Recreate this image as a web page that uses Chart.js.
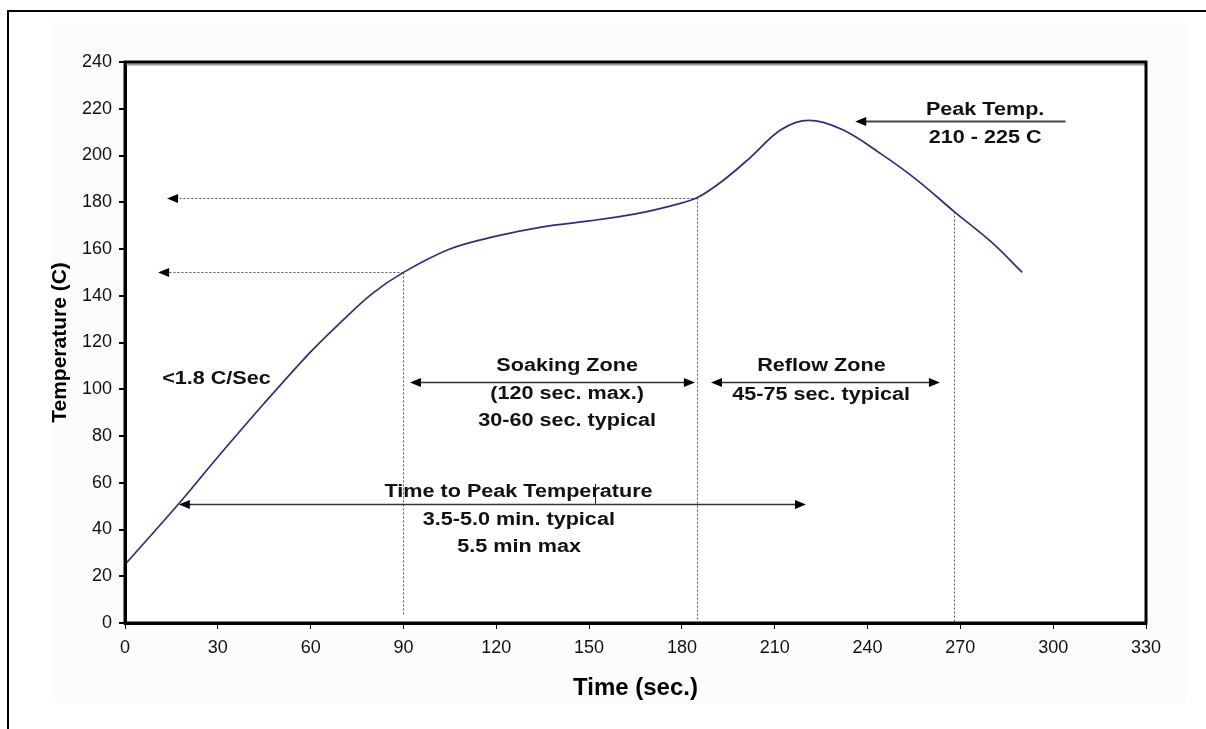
<!DOCTYPE html>
<html><head><meta charset="utf-8">
<script src="https://cdn.jsdelivr.net/npm/chart.js@4/dist/chart.umd.min.js"></script>
<style>html,body{margin:0;padding:0;background:#fff;}#wrap{width:1206px;height:729px;position:relative;}</style>
</head><body><div id="wrap"><canvas id="c" width="1206" height="729"></canvas></div>
<script>
// ---- data ----
const times = [0, 18, 30, 45, 60, 70, 80, 90, 105, 120, 135, 150, 165, 178, 185, 193, 202, 212, 221, 232, 244, 256, 268, 280, 290];
const temps = [25, 52, 71, 94, 116, 129, 141, 150, 160, 165.5, 169.5, 172, 175, 179, 182, 189, 199, 211, 215, 211, 201, 189.5, 176, 163, 150];
const xTickValues = [0, 30, 60, 90, 120, 150, 180, 210, 240, 270, 300, 330];
const yTickValues = [0, 20, 40, 60, 80, 100, 120, 140, 160, 180, 200, 220, 240];
// zone boundaries (time, temperature on the curve)
const markerTimes = [90, 185, 268];
const markerTemps = [150, 182, 176];
// horizontal dotted arrows: where they end on the left (time)
const levelArrowEnds = [10.7, 13.6];
// annotation arrows: [from time, to time, temperature, double-headed]
const arrowFrom = [92.1, 189.4, 17.4, 304];
const arrowTo = [184.2, 263.4, 220.1, 236];
const arrowTemp = [103.1, 103.1, 51, 214.7];
const arrowDouble = [true, true, true, false];
// annotation texts
const noteTexts = ['Peak Temp.', '210 - 225 C', '<1.8 C/Sec', 'Soaking Zone', '(120 sec. max.)', '30-60 sec. typical', 'Reflow Zone', '45-75 sec. typical', 'Time to Peak Temperature', '3.5-5.0 min. typical', '5.5 min max'];
const noteTimes = [278, 278, 12, 142.9, 142.9, 142.9, 225.1, 225, 127.2, 127.3, 127.4];
const noteTemps = [217.3, 205.3, 102.4, 107.6, 96, 84.4, 107.6, 95.6, 54, 42, 30.4];
const noteAlign = ['center', 'center', 'left', 'center', 'center', 'center', 'center', 'center', 'center', 'center', 'center'];

const FONT = '"Liberation Sans", Arial, sans-serif';

function arrowHead(ctx, x, y, dir) {
  ctx.beginPath();
  ctx.moveTo(x, y);
  ctx.lineTo(x - dir * 11, y - 4.5);
  ctx.lineTo(x - dir * 11, y + 4.5);
  ctx.closePath();
  ctx.fill();
}

const decor = {
  id: 'decor',
  beforeDraw(chart) {
    const ctx = chart.ctx;
    ctx.save();
    ctx.fillStyle = '#ffffff';
    ctx.fillRect(0, 0, chart.width, chart.height);
    ctx.fillStyle = '#fcfcfc';
    ctx.fillRect(50, 23, 1136, 680);
    ctx.strokeStyle = '#000';
    ctx.lineWidth = 2;
    ctx.beginPath();
    ctx.moveTo(8, 729); ctx.lineTo(8, 11); ctx.lineTo(1206, 11);
    ctx.stroke();
    const a = chart.chartArea;
    ctx.fillStyle = '#ffffff';
    ctx.fillRect(a.left, a.top, a.right - a.left, a.bottom - a.top);
    ctx.restore();
  },
  beforeDatasetsDraw(chart) {
    const ctx = chart.ctx, xs = chart.scales.x, ys = chart.scales.y;
    ctx.save();
    ctx.strokeStyle = '#555';
    ctx.lineWidth = 1;
    ctx.setLineDash([2, 2]);
    markerTimes.forEach((t, i) => {
      const x = Math.round(xs.getPixelForValue(t)) + 0.5;
      ctx.beginPath();
      ctx.moveTo(x, ys.getPixelForValue(markerTemps[i]));
      ctx.lineTo(x, ys.getPixelForValue(i === 0 ? 3 : 0.5));
      ctx.stroke();
    });
    levelArrowEnds.forEach((t, i) => {
      const y = Math.round(ys.getPixelForValue(markerTemps[i])) + 0.5;
      ctx.beginPath();
      ctx.moveTo(xs.getPixelForValue(markerTimes[i]), y);
      ctx.lineTo(xs.getPixelForValue(t) + 8, y);
      ctx.stroke();
    });
    ctx.setLineDash([]);
    ctx.fillStyle = '#000';
    levelArrowEnds.forEach((t, i) => {
      const y = Math.round(ys.getPixelForValue(markerTemps[i])) + 0.5;
      arrowHead(ctx, xs.getPixelForValue(t), y, -1);
    });
    ctx.restore();
  },
  afterDraw(chart) {
    const ctx = chart.ctx, xs = chart.scales.x, ys = chart.scales.y, a = chart.chartArea;
    ctx.save();
    arrowFrom.forEach((f, i) => {
      const x1 = xs.getPixelForValue(f), x2 = xs.getPixelForValue(arrowTo[i]);
      const y = Math.round(ys.getPixelForValue(arrowTemp[i])) + 0.5;
      const dir = x2 > x1 ? 1 : -1;
      ctx.strokeStyle = i === 3 ? '#444' : '#333';
      ctx.lineWidth = i === 3 ? 2 : 1.5;
      ctx.beginPath();
      ctx.moveTo(x1 + (arrowDouble[i] ? dir * 9 : 0), y);
      ctx.lineTo(x2 - dir * 9, y);
      ctx.stroke();
      ctx.fillStyle = '#000';
      arrowHead(ctx, x2, y, dir);
      if (arrowDouble[i]) arrowHead(ctx, x1, y, -dir);
    });
    ctx.strokeStyle = '#222';
    ctx.lineWidth = 1;
    const cx = Math.round(xs.getPixelForValue(151.9)) + 0.5;
    ctx.beginPath();
    ctx.moveTo(cx, ys.getPixelForValue(59.5));
    ctx.lineTo(cx, ys.getPixelForValue(51));
    ctx.stroke();
    ctx.fillStyle = '#111';
    ctx.textBaseline = 'alphabetic';
    ctx.font = 'bold 18px ' + FONT;
    noteTexts.forEach((s, i) => {
      ctx.save();
      ctx.translate(xs.getPixelForValue(noteTimes[i]), ys.getPixelForValue(noteTemps[i]));
      ctx.scale(1.2, 1);
      ctx.textAlign = noteAlign[i];
      ctx.fillText(s, 0, 0);
      ctx.restore();
    });
    ctx.strokeStyle = '#999';
    ctx.lineWidth = 2;
    ctx.beginPath();
    ctx.moveTo(a.left, a.top + 2.5); ctx.lineTo(a.right, a.top + 2.5);
    ctx.stroke();
    ctx.strokeStyle = '#000';
    ctx.lineWidth = 3;
    ctx.strokeRect(a.left, a.top, a.right - a.left, a.bottom - a.top);
    ctx.restore();
  }
};

new Chart(document.getElementById('c'), {
  type: 'line',
  data: {
    datasets: [{
      data: times.map((t, i) => ({ x: t, y: temps[i] })),
      borderColor: '#2d2d82',
      borderWidth: 1.7,
      pointRadius: 0,
      tension: 0.35,
      fill: false
    }]
  },
  options: {
    responsive: false,
    animation: false,
    devicePixelRatio: 1,
    layout: { padding: { top: 62, right: 60, left: 0, bottom: 0 } },
    plugins: { legend: { display: false }, tooltip: { enabled: false } },
    scales: {
      x: {
        type: 'linear', min: 0, max: 330,
        afterBuildTicks: s => { s.ticks = xTickValues.map(v => ({ value: v })); },
        afterFit: s => { s.height = 106; },
        ticks: { font: { family: FONT, size: 18 }, color: '#111', padding: 8, maxRotation: 0, autoSkip: false },
        grid: { drawOnChartArea: false, tickLength: 6, color: '#000', lineWidth: 1 },
        border: { display: true, color: '#000', width: 3 },
        title: { display: true, text: 'Time (sec.)', color: '#000', font: { family: FONT, size: 24, weight: 'bold' }, padding: { top: 0, bottom: 26 } }
      },
      y: {
        type: 'linear', min: 0, max: 240,
        afterBuildTicks: s => { s.ticks = yTickValues.map(v => ({ value: v })); },
        afterFit: s => { s.width = 125; },
        ticks: { font: { family: FONT, size: 18 }, color: '#111', padding: 7, autoSkip: false },
        grid: { drawOnChartArea: false, tickLength: 6, color: '#000', lineWidth: 2 },
        border: { display: true, color: '#000', width: 3 },
        title: { display: true, text: 'Temperature (C)', color: '#000', font: { family: FONT, size: 21, weight: 'bold' }, padding: { top: 48, bottom: 0 } }
      }
    }
  },
  plugins: [decor]
});
</script></body></html>
